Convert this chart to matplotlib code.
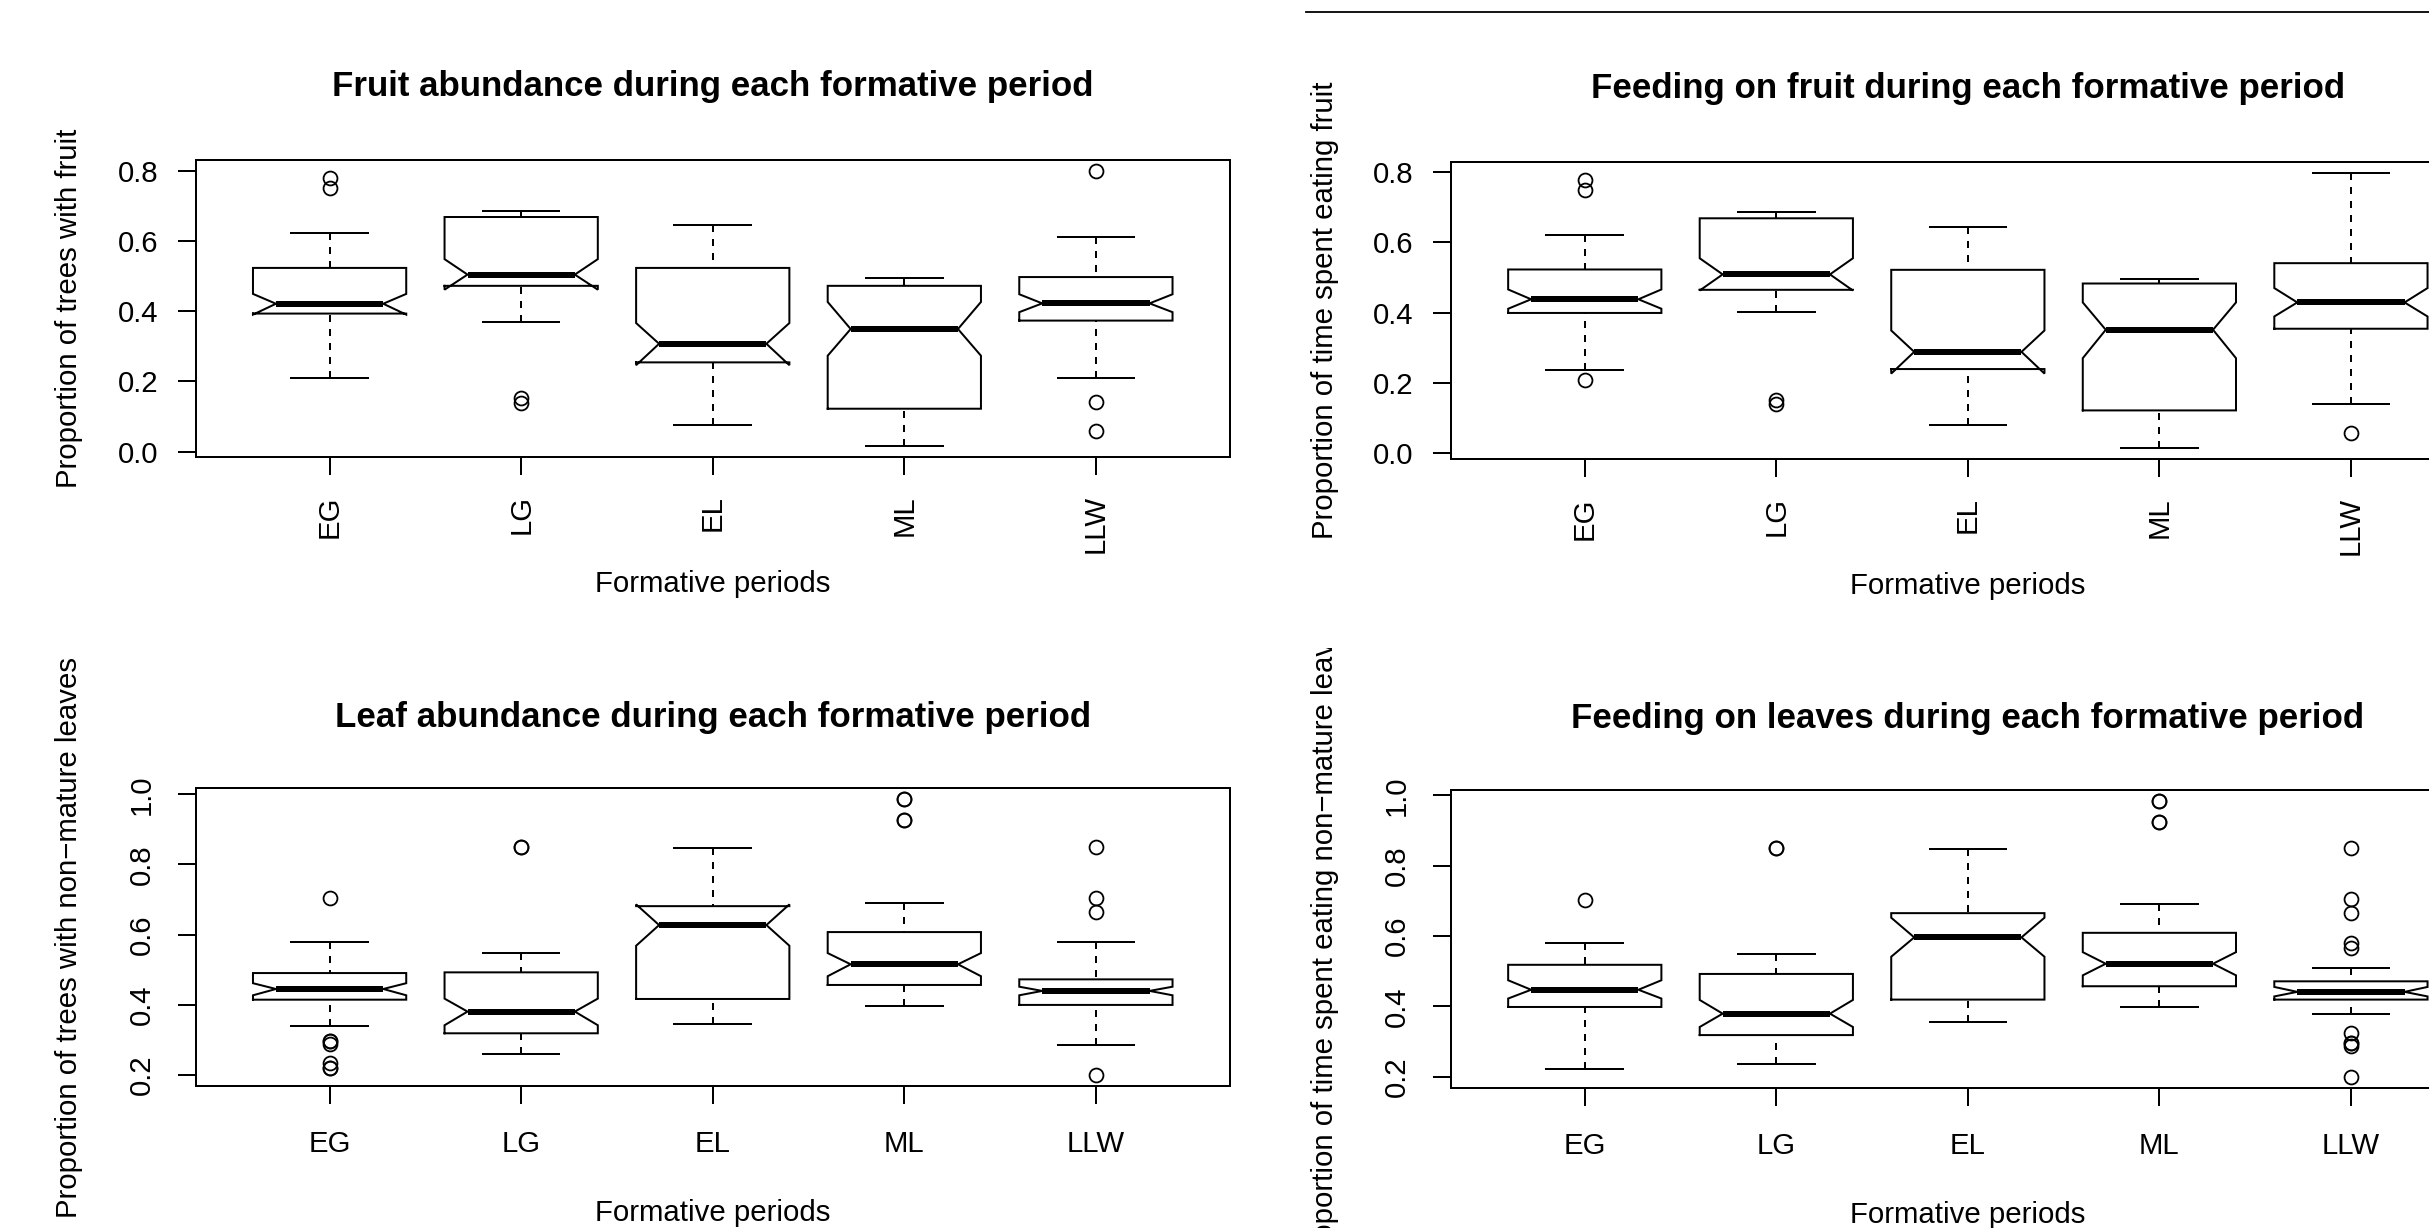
import matplotlib
matplotlib.use("Agg")
import matplotlib.pyplot as plt
from matplotlib.lines import Line2D
from matplotlib.transforms import Bbox, TransformedBbox

periods = ["EG", "LG", "EL", "ML", "LLW"]

# per box: (lower whisker, q1, notch low, median, notch high, q3, upper whisker)
fruit_abund = [
    (0.210, 0.393, 0.390, 0.421, 0.449, 0.523, 0.622),
    (0.369, 0.472, 0.461, 0.504, 0.548, 0.668, 0.686),
    (0.077, 0.254, 0.246, 0.307, 0.366, 0.523, 0.644),
    (0.015, 0.122, 0.273, 0.349, 0.426, 0.472, 0.493),
    (0.210, 0.373, 0.397, 0.422, 0.448, 0.497, 0.612),
]
fruit_abund_out = [[0.778, 0.750], [0.153, 0.139], [], [], [0.799, 0.140, 0.058]]

fruit_feed = [
    (0.236, 0.399, 0.411, 0.438, 0.466, 0.523, 0.621),
    (0.401, 0.465, 0.463, 0.509, 0.555, 0.669, 0.688),
    (0.078, 0.239, 0.226, 0.288, 0.349, 0.522, 0.643),
    (0.013, 0.121, 0.270, 0.351, 0.429, 0.483, 0.496),
    (0.140, 0.354, 0.389, 0.429, 0.470, 0.541, 0.799),
]
fruit_feed_out = [[0.779, 0.751, 0.209], [0.152, 0.138], [], [], [0.058]]

leaf_abund = [
    (0.340, 0.414, 0.4265, 0.4445, 0.461, 0.490, 0.580),
    (0.258, 0.318, 0.341, 0.380, 0.417, 0.492, 0.547),
    (0.344, 0.416, 0.568, 0.627, 0.686, 0.681, 0.847),
    (0.397, 0.456, 0.481, 0.515, 0.547, 0.607, 0.691),
    (0.285, 0.399, 0.4265, 0.439, 0.451, 0.472, 0.580),
]
leaf_abund_out = [[0.703, 0.297, 0.297, 0.288, 0.232, 0.220, 0.220],
                  [0.849, 0.849], [], [0.986, 0.986, 0.927, 0.927],
                  [0.849, 0.703, 0.665, 0.199]]

leaf_feed = [
    (0.221, 0.398, 0.422, 0.447, 0.474, 0.518, 0.581),
    (0.235, 0.318, 0.341, 0.379, 0.418, 0.492, 0.548),
    (0.354, 0.419, 0.541, 0.596, 0.652, 0.665, 0.847),
    (0.397, 0.457, 0.488, 0.521, 0.554, 0.609, 0.690),
    (0.377, 0.419, 0.428, 0.441, 0.455, 0.471, 0.508),
]
leaf_feed_out = [[0.703], [0.849, 0.849], [], [0.984, 0.984, 0.925, 0.925],
                 [0.849, 0.704, 0.666, 0.580, 0.566, 0.324, 0.295, 0.295, 0.286, 0.198]]

W, H = 2429, 1228
LW = 1.44
FS = 21.2
plt.rcParams["font.family"] = ["Liberation Sans", "DejaVu Sans"]

fig = plt.figure(figsize=(W / 100, H / 100), dpi=100)


def px_axes(left, top, right, bottom):
    return fig.add_axes([left / W, 1 - bottom / H, (right - left) / W, (bottom - top) / H])


def notched_box(ax, x, st, fliers, width=0.8, notch=0.7):
    lo, q1, cilo, med, cihi, q3, hi = st
    hw = width / 2
    nw = hw * notch
    xs = [x - hw, x + hw, x + hw, x + nw, x + hw, x + hw, x - hw, x - hw, x - nw, x - hw, x - hw]
    ys = [q1, q1, cilo, med, cihi, q3, q3, cihi, med, cilo, q1]
    ax.plot(xs, ys, color="black", lw=LW, solid_joinstyle="miter")
    ax.plot([x - nw, x + nw], [med, med], color="black", lw=LW * 3, solid_capstyle="butt")
    ax.plot([x, x], [hi, q3], color="black", lw=LW, ls=(0, (3.5, 3.5)))
    ax.plot([x, x], [lo, q1], color="black", lw=LW, ls=(0, (3.5, 3.5)))
    cap = width / 4
    ax.plot([x - cap, x + cap], [hi, hi], color="black", lw=LW)
    ax.plot([x - cap, x + cap], [lo, lo], color="black", lw=LW)
    if fliers:
        ax.plot([x] * len(fliers), fliers, "o", mfc="none", mec="black", ms=10, mew=1.3)


def panel(ax, stats, outs, title, ylabel, yticks, top_row, title_y):
    for i, (st, fl) in enumerate(zip(stats, outs)):
        notched_box(ax, i + 1, st, fl)
    vals = [v for st in stats for v in (st[0], st[-1])] + [v for fl in outs for v in fl]
    lo, hi = min(vals), max(vals)
    r = hi - lo
    ax.set_ylim(lo - 0.04 * r, hi + 0.04 * r)
    ax.set_xlim(0.3, 5.7)
    ax.set_xticks(range(1, 6), periods)
    ax.set_yticks(yticks, [f"{t:.1f}" for t in yticks])
    for sp in ax.spines.values():
        sp.set_linewidth(LW)
        sp.set_color("black")
    ax.tick_params(length=13, width=LW, labelsize=FS, color="black")
    if top_row:
        ax.tick_params(axis="x", labelrotation=90, pad=14.4)
        ax.tick_params(axis="y", pad=13.7)
    else:
        ax.tick_params(axis="x", pad=18.7)
        ax.tick_params(axis="y", labelrotation=90, pad=15.8)
        for lab in ax.get_yticklabels():
            lab.set_va("center")
    ax.set_title(title, fontsize=25.1, fontweight="bold", y=title_y, va="center", pad=0)
    ax.set_xlabel("Formative periods", fontsize=FS)
    ax.xaxis.set_label_coords(0.5, -0.425)
    ax.xaxis.label.set_va("center")
    ax.set_ylabel(ylabel, fontsize=FS)
    ax.yaxis.set_label_coords(-0.122, 0.5)
    ax.yaxis.label.set_va("center")


ax1 = px_axes(195.5, 160, 1230, 457.3)
ax2 = px_axes(1450.7, 161.7, 2485, 459.3)
ax3 = px_axes(195.5, 788.3, 1230, 1086)
ax4 = px_axes(1450.7, 790, 2485, 1088.3)

top_ticks = [0.0, 0.2, 0.4, 0.6, 0.8]
bot_ticks = [0.2, 0.4, 0.6, 0.8, 1.0]

panel(ax1, fruit_abund, fruit_abund_out, "Fruit abundance during each formative period",
      "Proportion of trees with fruit", top_ticks, True, 1.2466)
panel(ax2, fruit_feed, fruit_feed_out, "Feeding on fruit during each formative period",
      "Proportion of time spent eating fruit", top_ticks, True, 1.2466)
panel(ax3, leaf_abund, leaf_abund_out, "Leaf abundance during each formative period",
      "Proportion of trees with non\u2212mature leaves", bot_ticks, False, 1.239)
panel(ax4, leaf_feed, leaf_feed_out, "Feeding on leaves during each formative period",
      "Proportion of time spent eating non\u2212mature leaves", bot_ticks, False, 1.239)

# the long label of the lower right panel is cut by its panel region, as in the source
region = TransformedBbox(Bbox.from_extents(0.5, 0.0, 1.0, 1 - 647.5 / H), fig.transFigure)
ax4.yaxis.label.set_clip_box(region)
ax4.yaxis.label.set_clip_on(True)

# thin rule at the top right of the page
fig.add_artist(Line2D([1306 / W, 1.0], [1 - 12.4 / H] * 2, color="black", lw=1.3))

fig.savefig("out.png", dpi=100)
